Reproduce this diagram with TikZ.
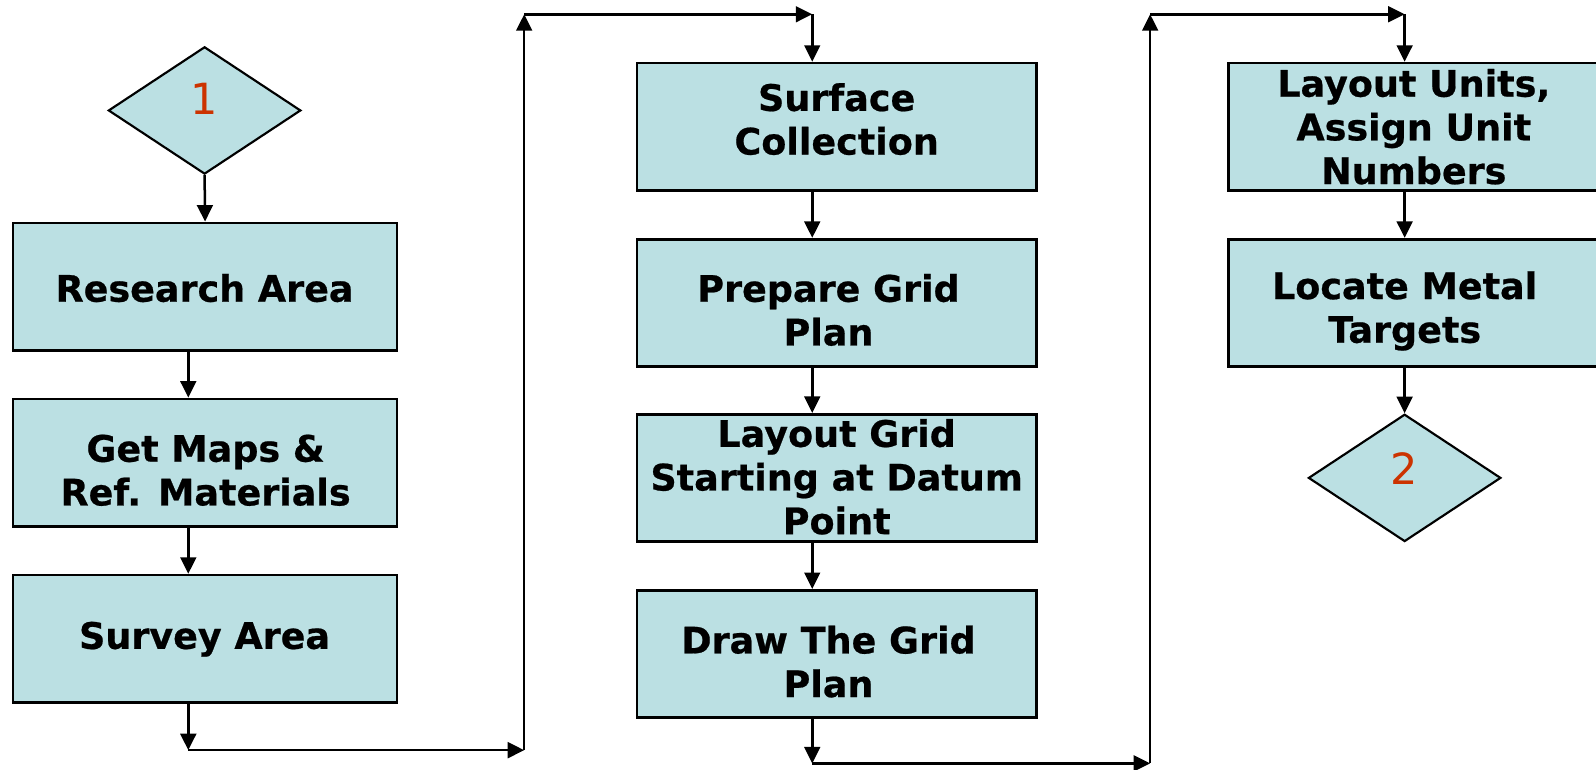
\documentclass[tikz,border=0pt]{standalone}
\usepackage{fontspec}
\setmainfont{DejaVu Sans}
\newfontfamily\boxfont[FakeBold=0.6]{DejaVu Sans Bold}
\usetikzlibrary{shapes.geometric,arrows.meta}
\definecolor{boxfill}{HTML}{BBE0E3}
\definecolor{numred}{HTML}{CC3300}
\tikzset{
  stepbox/.style={draw=black, line width=0.75pt, fill=boxfill, rectangle, inner sep=0pt},
  leftbox/.style={stepbox, minimum width=3.77cm, minimum height=1.25cm},
  midbox/.style={stepbox, minimum width=3.92cm, minimum height=1.25cm},
  rightbox/.style={stepbox, minimum width=3.65cm, minimum height=1.25cm},
  decbox/.style={draw=black, line width=0.6pt, fill=boxfill, diamond, inner sep=0pt, minimum width=1.89cm, minimum height=1.25cm},
  txt/.style={align=center, inner sep=0pt, font=\fontsize{10.2}{12.2}\boxfont},
  numtxt/.style={inner sep=0pt, text=numred, font=\fontsize{12}{14}\selectfont},
  conn/.style={line width=0.7pt, -{Triangle[length=4.6pt,width=4.4pt]}}
}
\begin{document}
\begin{tikzpicture}[x=0.01cm,y=-0.01cm]
\path[use as bounding box, fill=white] (0,0) rectangle (1568,756);

% left column
\node[decbox] (d1) at (201,108.5) {};
\node[numtxt] (n1) at (201,97) {1};
\node[leftbox] (b1) at (201.5,281.5) {};
\node[txt] (t1) at (201,283) {Research Area};
\node[leftbox] (b2) at (201.5,454.5) {};
\node[txt] (t2) at (202,462) {Get Maps \&\\Ref. Materials};
\node[leftbox] (b3) at (201.5,627.5) {};
\node[txt] (t3) at (201,628) {Survey Area};

% middle column
\node[midbox] (m1) at (822,124.5) {};
\node[txt] (s1) at (822,117) {Surface\\Collection};
\node[midbox] (m2) at (822,297.5) {};
\node[txt] (s2) at (814,304.5) {Prepare Grid\\Plan};
\node[midbox] (m3) at (822,469.5) {};
\node[txt] (s3) at (822,468.5) {Layout Grid\\Starting at Datum\\Point};
\node[midbox] (m4) at (822,642.5) {};
\node[txt] (s4) at (814,650) {Draw The Grid\\Plan};

% right column
\node[rightbox] (r1) at (1389.5,124.5) {};
\node[txt] (u1) at (1389,124.5) {Layout Units,\\Assign Unit\\Numbers};
\node[rightbox] (r2) at (1389.5,297.5) {};
\node[txt] (u2) at (1380,305.5) {Locate Metal\\Targets};
\node[decbox] (d2) at (1380,469.5) {};
\node[numtxt] (n2) at (1380,460) {2};

% routing coordinates
\coordinate (c1) at (185,737);
\coordinate (c2) at (515,737);
\coordinate (c3) at (515,14);
\coordinate (c4) at (798,14);
\coordinate (c5) at (798,750);
\coordinate (c6) at (1130,750);
\coordinate (c7) at (1130,14);
\coordinate (c8) at (1380,14);

% left connectors
\draw[conn] (d1.south) -- (b1.north);
\draw[conn] (c1 |- b1.south) -- (c1 |- b2.north);
\draw[conn] (c1 |- b2.south) -- (c1 |- b3.north);
\draw[conn] (c1 |- b3.south) -- (c1);
\draw[conn] (c1) -- (c2);
\draw[conn] (c2) -- (c3);
\draw[conn] (c3) -- (c4);
\draw[conn] (c4) -- (c4 |- m1.north);

% middle connectors
\draw[conn] (c4 |- m1.south) -- (c4 |- m2.north);
\draw[conn] (c4 |- m2.south) -- (c4 |- m3.north);
\draw[conn] (c4 |- m3.south) -- (c4 |- m4.north);
\draw[conn] (c5 |- m4.south) -- (c5);
\draw[conn] (c5) -- (c6);
\draw[conn] (c6) -- (c7);
\draw[conn] (c7) -- (c8);
\draw[conn] (c8) -- (c8 |- r1.north);

% right connectors
\draw[conn] (c8 |- r1.south) -- (c8 |- r2.north);
\draw[conn] (c8 |- r2.south) -- (d2.north);
\end{tikzpicture}
\end{document}
